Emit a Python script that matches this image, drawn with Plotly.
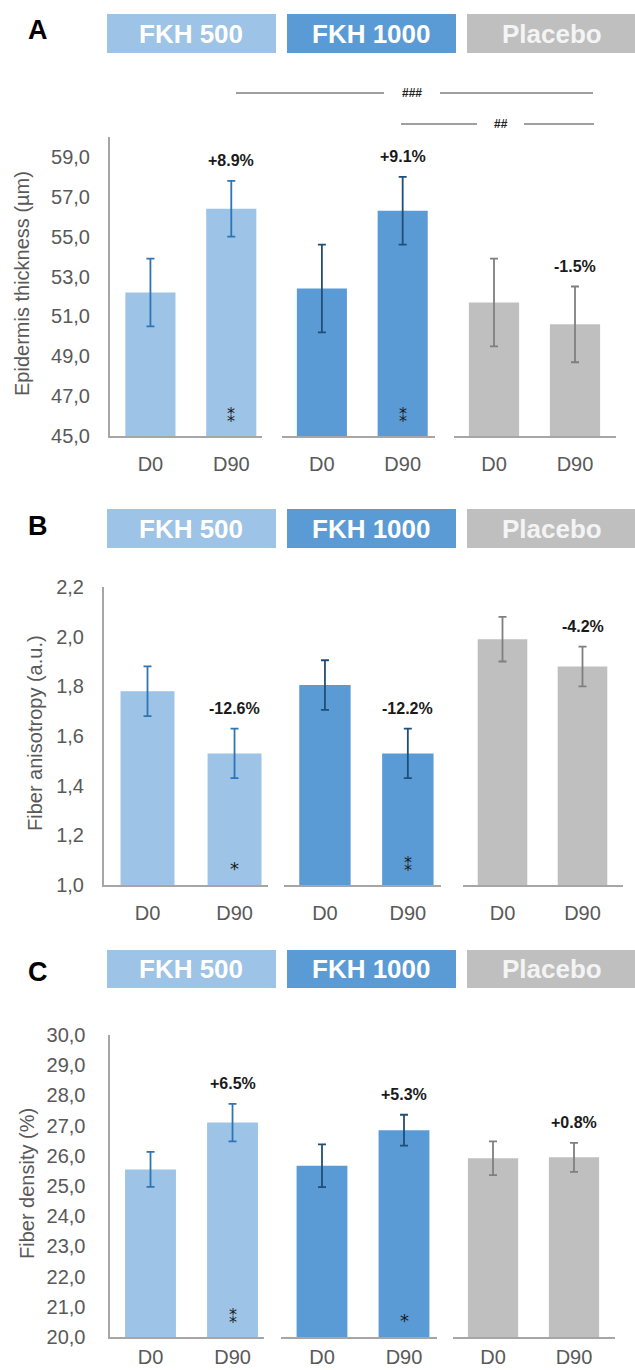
import plotly.graph_objects as go
from plotly.subplots import make_subplots

W, H = 635, 1370

groups = ["FKH 500", "FKH 1000", "Placebo"]
days = ["D0", "D90"]
bar_colors = ["#9DC3E6", "#5B9BD5", "#BFBFBF"]
err_colors = ["#2E75B6", "#1F4E79", "#7F7F7F"]
box_text_colors = ["#FFFFFF", "#FFFFFF", "#F4F4F4"]

# Panel A - epidermis thickness (µm)
thickness_mean = [[52.2, 56.4], [52.4, 56.3], [51.7, 50.6]]
thickness_err = [[1.7, 1.4], [2.2, 1.7], [2.2, 1.9]]
thickness_change = ["+8.9%", "+9.1%", "-1.5%"]
thickness_stars = ["**", "**", ""]
thickness_ticks = [45, 47, 49, 51, 53, 55, 57, 59]
thickness_ticktext = ["45,0", "47,0", "49,0", "51,0", "53,0", "55,0", "57,0", "59,0"]

# Panel B - fiber anisotropy (a.u.)
aniso_mean = [[1.78, 1.53], [1.805, 1.53], [1.99, 1.88]]
aniso_err = [[0.10, 0.10], [0.10, 0.10], [0.09, 0.08]]
aniso_change = ["-12.6%", "-12.2%", "-4.2%"]
aniso_stars = ["*", "**", ""]
aniso_ticks = [1.0, 1.2, 1.4, 1.6, 1.8, 2.0, 2.2]
aniso_ticktext = ["1,0", "1,2", "1,4", "1,6", "1,8", "2,0", "2,2"]

# Panel C - fiber density (%)
density_mean = [[25.55, 27.1], [25.67, 26.85], [25.92, 25.95]]
density_err = [[0.58, 0.62], [0.71, 0.51], [0.56, 0.48]]
density_change = ["+6.5%", "+5.3%", "+0.8%"]
density_stars = ["**", "*", ""]
density_ticks = [20, 21, 22, 23, 24, 25, 26, 27, 28, 29, 30]
density_ticktext = ["20,0", "21,0", "22,0", "23,0", "24,0", "25,0", "26,0",
                    "27,0", "28,0", "29,0", "30,0"]

panels = [
    dict(letter="A", title="Epidermis thickness (µm)", mean=thickness_mean, err=thickness_err,
         change=thickness_change, stars=thickness_stars, ticks=thickness_ticks,
         ticktext=thickness_ticktext, yrange=[45, 60]),
    dict(letter="B", title="Fiber anisotropy (a.u.)", mean=aniso_mean, err=aniso_err,
         change=aniso_change, stars=aniso_stars, ticks=aniso_ticks,
         ticktext=aniso_ticktext, yrange=[1.0, 2.2]),
    dict(letter="C", title="Fiber density (%)", mean=density_mean, err=density_err,
         change=density_change, stars=density_stars, ticks=density_ticks,
         ticktext=density_ticktext, yrange=[20, 30]),
]

# ---- layout geometry (pixels) ----
row_top = [137, 587, 1035]
row_bottom = [436, 885, 1337]
col_px = [
    [(110, 262), (281.5, 435), (453.5, 615.5)],
    [(104, 267.6), (283.5, 441), (462.5, 622.5)],
    [(109.5, 263.7), (281, 436.8), (452.5, 614.5)],
]
x_ranges = [[-0.5, 1.38], [-0.5, 1.4], [-0.5, 1.5]]
box_y = [(14, 53), (509, 548), (950, 988)]
box_x = [(107, 276), (287, 456), (467, 636)]
letter_xy = [(38, 30), (38, 526), (38, 972)]
ytitle_xy = [(22, 284), (35, 733), (27, 1184)]
ytick_len = [14, 14, 18]
xtick_len = [9, 9, 1]


def px(x):
    return x / W


def py(y):
    return 1 - y / H


fig = make_subplots(rows=3, cols=3)
FONT = "Liberation Sans, Arial, sans-serif"
GRAY_TXT = "#595959"
AXIS_COL = "#A6A6A6"

shapes = []
annotations = []

for r, p in enumerate(panels):
    for c in range(3):
        idx = r * 3 + c + 1
        sfx = "" if idx == 1 else str(idx)
        fig.add_trace(go.Bar(
            x=days, y=p["mean"][c],
            marker=dict(color=bar_colors[c], line=dict(width=0)),
            width=0.62,
            error_y=dict(type="data", array=p["err"][c], color=err_colors[c],
                         thickness=1.8, width=4),
            showlegend=False, hoverinfo="y",
        ), row=r + 1, col=c + 1)

        x0, x1 = col_px[r][c]
        fig.layout["xaxis" + sfx].update(
            domain=[px(x0), px(x1)], type="category", range=x_ranges[c],
            showline=True, linecolor=AXIS_COL, linewidth=2, showgrid=False,
            zeroline=False, ticks="outside", ticklen=xtick_len[r], tickcolor="rgba(0,0,0,0)",
            tickfont=dict(family=FONT, size=20, color=GRAY_TXT), fixedrange=True,
            automargin=False,
        )
        yax = dict(
            domain=[py(row_bottom[r]), py(row_top[r])], range=p["yrange"],
            showgrid=False, zeroline=False, fixedrange=True, automargin=False,
        )
        if c == 0:
            yax.update(showline=True, linecolor=AXIS_COL, linewidth=2,
                       tickvals=p["ticks"], ticktext=p["ticktext"],
                       ticks="outside", ticklen=ytick_len[r], tickcolor="rgba(0,0,0,0)",
                       tickfont=dict(family=FONT, size=20, color=GRAY_TXT))
        else:
            yax.update(showline=False, showticklabels=False, ticks="")
        fig.layout["yaxis" + sfx].update(**yax)

        # percent change label over D90
        top = p["mean"][c][1] + p["err"][c][1]
        annotations.append(dict(
            x="D90", y=top, xref="x" + sfx, yref="y" + sfx, text="<b>" + p["change"][c] + "</b>",
            showarrow=False, yanchor="bottom", yshift=10,
            font=dict(family=FONT, size=16, color="#1A1A1A"),
        ))
        # significance stars inside D90 bar ("⁑" = two stacked asterisks)
        stars = p["stars"][c]
        if stars:
            annotations.append(dict(
                x="D90", y=0, xref="x" + sfx, yref="y" + sfx + " domain",
                text="⁑" if stars == "**" else "*", showarrow=False,
                yanchor="bottom", yshift=8 if stars == "**" else 4,
                font=dict(family="DejaVu Sans, sans-serif", size=16 if stars == "**" else 18,
                          color="#1A1A1A"),
            ))

        # header box
        bx0, bx1 = box_x[c]
        by0, by1 = box_y[r]
        shapes.append(dict(type="rect", xref="paper", yref="paper",
                           x0=px(bx0), x1=px(bx1), y0=py(by1), y1=py(by0),
                           fillcolor=bar_colors[c], line=dict(width=0), layer="below"))
        annotations.append(dict(
            x=px((bx0 + bx1) / 2), y=py((by0 + by1) / 2), xref="paper", yref="paper",
            text="<b>" + groups[c] + "</b>", showarrow=False,
            xanchor="center", yanchor="middle",
            font=dict(family=FONT, size=26, color=box_text_colors[c]),
        ))

    # panel letter
    lx, ly = letter_xy[r]
    annotations.append(dict(
        x=px(lx), y=py(ly), xref="paper", yref="paper", text="<b>" + p["letter"] + "</b>",
        showarrow=False, xanchor="center", yanchor="middle",
        font=dict(family=FONT, size=27, color="#000000"),
    ))
    # y axis title
    tx, ty = ytitle_xy[r]
    annotations.append(dict(
        x=px(tx), y=py(ty), xref="paper", yref="paper", text=p["title"],
        showarrow=False, textangle=-90, xanchor="center", yanchor="middle",
        font=dict(family=FONT, size=20, color=GRAY_TXT),
    ))

# significance brackets (panel A, D90 comparisons vs placebo)
sig = [
    dict(y=93, segs=[(236, 384), (440, 593)], label="###", lx=412),
    dict(y=124, segs=[(401, 477), (524, 594)], label="##", lx=501),
]
for s in sig:
    for a, b in s["segs"]:
        shapes.append(dict(type="line", xref="paper", yref="paper",
                           x0=px(a), x1=px(b), y0=py(s["y"]), y1=py(s["y"]),
                           line=dict(color="#404040", width=1)))
    annotations.append(dict(
        x=px(s["lx"]), y=py(s["y"]), xref="paper", yref="paper",
        text="<b>" + s["label"] + "</b>", showarrow=False,
        xanchor="center", yanchor="middle",
        font=dict(family=FONT, size=12, color="#202020"),
    ))

fig.update_layout(
    width=W, height=H, margin=dict(l=0, r=0, t=0, b=0, autoexpand=False),
    paper_bgcolor="white", plot_bgcolor="white",
    shapes=shapes, annotations=annotations, bargap=0.3,
    font=dict(family=FONT),
)

fig.write_html(
    "out.html",
    config={"displayModeBar": False},
    post_script=(
        "document.body.style.margin='0px';"
        "document.documentElement.style.overflow='hidden';"
    ),
)
